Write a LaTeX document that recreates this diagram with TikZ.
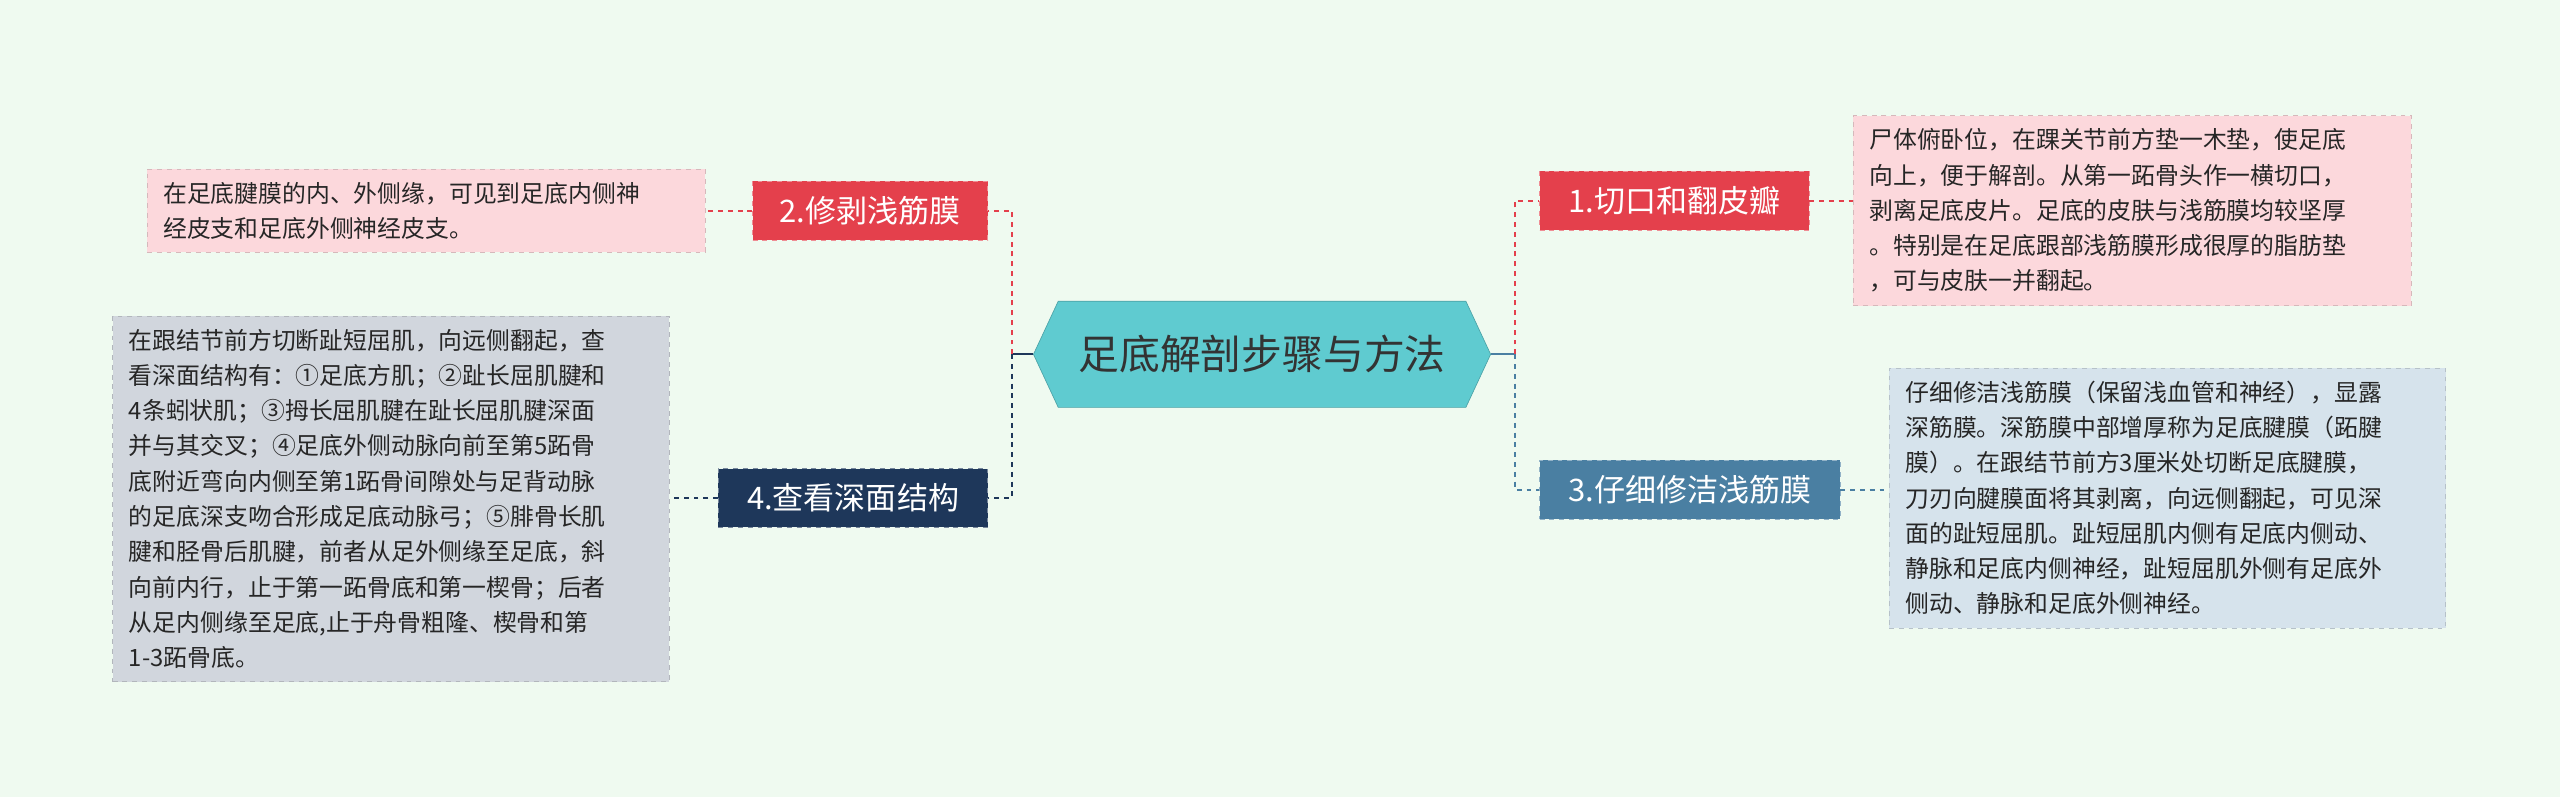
\documentclass[tikz,border=0pt]{standalone}
\usepackage{fontspec}
\setmainfont{Noto Sans CJK SC}
\usetikzlibrary{shapes.symbols}
\definecolor{bg}{HTML}{EFFAF0}
\definecolor{teal}{HTML}{5FCBD0}
\definecolor{rd}{HTML}{E4404C}
\definecolor{pinkf}{HTML}{FCD8DC}
\definecolor{stb}{HTML}{4A7FA2}
\definecolor{bluef}{HTML}{D6E3EC}
\definecolor{navy}{HTML}{1E375A}
\definecolor{greyf}{HTML}{D1D6DD}
\tikzset{
 lab/.style={draw=#1!60!white, dashed, fill=#1, text=white, inner sep=0pt, minimum height=36pt, font=\fontsize{19}{22}\selectfont},
 txt/.style={fill=#1, draw=#1!85!black, dashed, align=left, inner xsep=10pt, inner ysep=8pt, font=\fontsize{14.6}{21.6}\selectfont, text=black!85},
 con/.style={dashed, line width=1.2pt, draw=#1},
}
\begin{document}
\begin{tikzpicture}[x=1pt,y=-1pt]
\fill[bg] (0,0) rectangle (1568,488);
\useasboundingbox (0,0) rectangle (1568,488);
\node[signal, signal to=west and east, signal pointer angle=130, fill=teal, draw=teal!80!black, minimum width=280pt, minimum height=65pt, inner sep=0pt, font=\fontsize{25}{28}\selectfont, text=black!80] (c) at (773,217) {足底解剖步骤与方法};
\node[lab=rd, minimum width=165pt] (n1) at (1025.5,123) {1.切口和翻皮瓣};
\node[lab=stb, minimum width=184pt] (n3) at (1035,300) {3.仔细修洁浅筋膜};
\node[lab=rd, minimum width=144pt] (n2) at (533,129) {2.修剥浅筋膜};
\node[lab=navy, minimum width=165pt] (n4) at (522.5,305) {4.查看深面结构};
\node[txt=pinkf, text width=322pt] (t1) at (1306,129) {尸体俯卧位，在踝关节前方垫一木垫，使足底\\向上，便于解剖。从第一跖骨头作一横切口，\\剥离足底皮片。足底的皮肤与浅筋膜均较坚厚\\。特别是在足底跟部浅筋膜形成很厚的脂肪垫\\，可与皮肤一并翻起。};
\node[txt=bluef, text width=321pt] (t3) at (1327.5,305) {仔细修洁浅筋膜（保留浅血管和神经），显露\\深筋膜。深筋膜中部增厚称为足底腱膜（跖腱\\膜）。在跟结节前方3厘米处切断足底腱膜，\\刀刃向腱膜面将其剥离，向远侧翻起，可见深\\面的趾短屈肌。趾短屈肌内侧有足底内侧动、\\静脉和足底内侧神经，趾短屈肌外侧有足底外\\侧动、静脉和足底外侧神经。};
\node[txt=pinkf, text width=322pt] (t2) at (261,129) {在足底腱膜的内、外侧缘，可见到足底内侧神\\经皮支和足底外侧神经皮支。};
\node[txt=greyf, text width=321pt] (t4) at (239.5,305.5) {在跟结节前方切断趾短屈肌，向远侧翻起，查\\看深面结构有：①足底方肌；②趾长屈肌腱和\\4条蚓状肌；③拇长屈肌腱在趾长屈肌腱深面\\并与其交叉；④足底外侧动脉向前至第5跖骨\\底附近弯向内侧至第1跖骨间隙处与足背动脉\\的足底深支吻合形成足底动脉弓；⑤腓骨长肌\\腱和胫骨后肌腱，前者从足外侧缘至足底，斜\\向前内行，止于第一跖骨底和第一楔骨；后者\\从足内侧缘至足底,止于舟骨粗隆、楔骨和第\\1-3跖骨底。};
\coordinate (jl) at (620,217);
\coordinate (jr) at (928,217);
\draw[line width=1.2pt, navy] (c.west) -- (jl);
\draw[line width=1.2pt, stb] (c.east) -- (jr);
\draw[con=rd] (jl) |- (n2.east);
\draw[con=navy] (jl) |- (n4.east);
\draw[con=rd] (jr) |- (n1.west);
\draw[con=stb] (jr) |- (n3.west);
\draw[con=rd] (n1.east) -- (t1.west|-n1.east);
\draw[con=stb] (n3.east) -- (t3.west|-n3.east);
\draw[con=rd] (n2.west) -- (t2.east|-n2.west);
\draw[con=navy] (n4.west) -- (t4.east|-n4.west);
\end{tikzpicture}
\end{document}
